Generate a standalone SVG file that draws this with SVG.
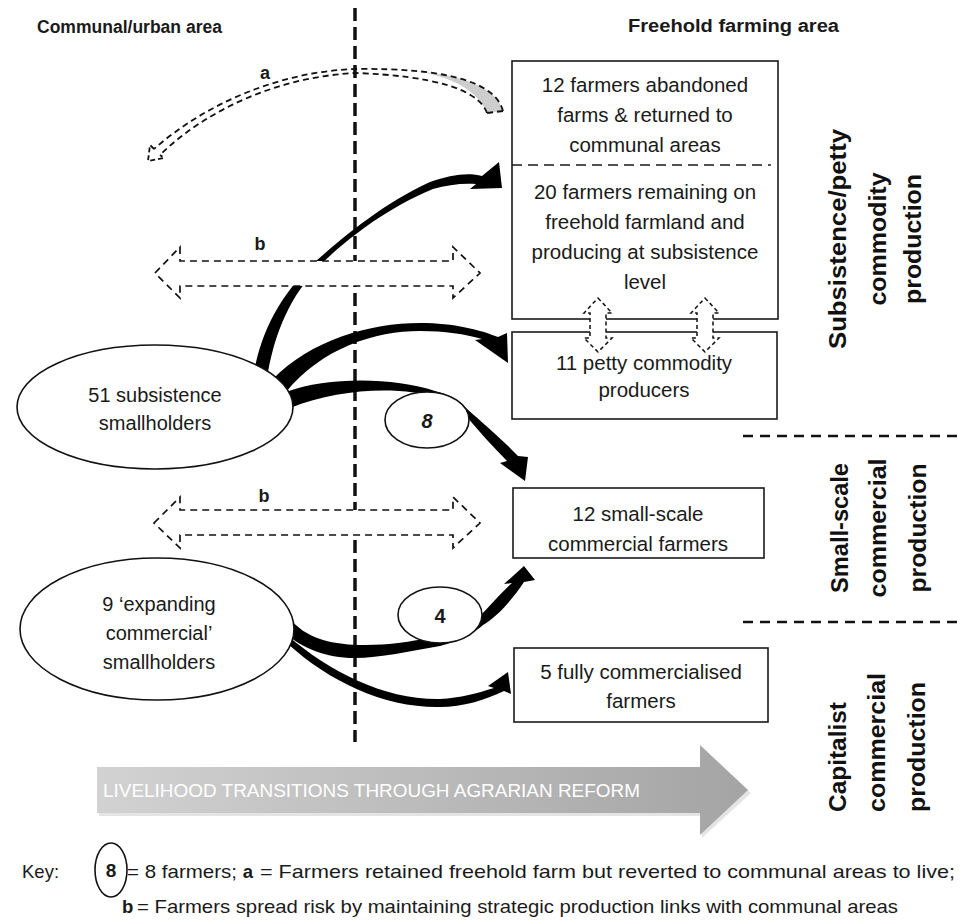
<svg xmlns="http://www.w3.org/2000/svg" width="961" height="924" viewBox="0 0 961 924">
<defs>
<style>
.t{font-family:"Liberation Sans",Arial,sans-serif;fill:#1a1a1a}
.bx{font-size:20.5px;text-anchor:middle}
.el{font-size:20px;text-anchor:middle}
.b{font-weight:bold}
.side{font-family:"Liberation Sans",Arial,sans-serif;font-weight:bold;font-size:23px;fill:#111}
.box{fill:#fff;stroke:#1a1a1a;stroke-width:1.6}
.ell{fill:#fff;stroke:#111;stroke-width:1.6}
.dsh{fill:#fff;stroke:#111;stroke-width:1.7;stroke-dasharray:7 5}
.dsm{fill:#fff;stroke:#111;stroke-width:1.5;stroke-dasharray:4 3}
.arr{fill:#000;stroke:none}
</style>
<linearGradient id="g" x1="0" y1="0" x2="1" y2="0">
<stop offset="0" stop-color="#d2d2d2"/>
<stop offset="1" stop-color="#a4a4a4"/>
</linearGradient>
</defs>
<rect width="961" height="924" fill="#fff"/>

<g id="headers">
<text class="t b" x="37" y="33" font-size="17.5" textLength="185" lengthAdjust="spacingAndGlyphs">Communal/urban area</text>
<text class="t b" x="628" y="32" font-size="17.5" textLength="211" lengthAdjust="spacingAndGlyphs">Freehold farming area</text>
</g>

<g id="divider">
<line x1="355" y1="8" x2="355" y2="742" stroke="#111" stroke-width="3.5" stroke-dasharray="13 6"/>
<line x1="743" y1="436" x2="961" y2="436" stroke="#111" stroke-width="2.5" stroke-dasharray="10 7"/>
<line x1="743" y1="622" x2="961" y2="622" stroke="#111" stroke-width="2.5" stroke-dasharray="10 7"/>
</g>

<g id="connectors">
<!-- a: dashed curved arrow back to communal areas -->
<path d="M503,111 C497,90 470,76 415,71 C450,76 478,90 487,113 Z" fill="#cdcdcd"/>
<path d="M503,111 C495,80 440,68 357,69 C280,71 205,104 154,149" fill="none" stroke="#111" stroke-width="1.8" stroke-dasharray="6 4"/>
<path d="M487,113 C478,88 430,76 357,73 C282,76 208,108 160,155" fill="none" stroke="#111" stroke-width="1.8" stroke-dasharray="6 4"/>
<path d="M503,111 L487,113" fill="none" stroke="#111" stroke-width="1.8" stroke-dasharray="6 4"/>
<path d="M154,149 L150,145 L148,161 L164,158 L160,155" fill="none" stroke="#111" stroke-width="1.8" stroke-dasharray="5 3"/>

<!-- solid curved arrows -->
<path id="c1" class="arr" d="M254,372 C262,330 280,295 315,262 C340,240 380,205 430,182 C450,175 468,172 482,176 L499,162 L502,188 L470,189 L476,184 C462,183 447,185 433,189 C382,210 343,243 319,266 C290,297 276,330 268,372 Z"/>
<path id="c2" class="arr" d="M272,380 C310,340 370,323 420,323 C455,323 480,330 498,337 L507,333 L508,363 L475,340 L482,339 C465,334 445,331 420,331 C375,331 322,348 286,392 Z"/>
<path id="c3" class="arr" d="M286,392 C330,376 395,378 435,391 C450,395 460,400 466,408 C485,425 505,442 518,456 L528,457 L525,481 L500,463 L507,461 C492,446 478,430 466,416 L440,398 C400,386 340,388 290,408 Z"/>
<path id="c4" class="arr" d="M288,616 C305,640 335,645 365,645 C390,645 405,642 418,640 L440,636 L478,618 C490,606 500,594 512,583 L504,584 L524,566 L535,580 L524,582 C512,600 497,617 483,625 C475,632 462,640 440,646 C410,651 380,658 355,658 C325,658 303,648 286,634 Z"/>
<path id="c5" class="arr" d="M288,636 C330,672 385,700 440,699 C460,698 478,693 494,688 L488,686 L508,672 L511,694 L504,691 C485,700 463,707 440,707 C385,708 330,682 288,644 Z"/>

<!-- b: dashed double-headed arrows -->
<path class="dsh" d="M155,273 L180,247 L180,261 L453,261 L453,247 L480,273 L453,298 L453,286 L180,286 L180,298 Z"/>
<path class="dsh" d="M154,523 L180,497 L180,510 L453,510 L453,497 L480,523 L453,548 L453,535 L180,535 L180,548 Z"/>
</g>

<g id="labels">
<text class="t b" x="265" y="79" font-size="18" text-anchor="middle">a</text>
<text class="t b" x="260" y="250" font-size="18" text-anchor="middle">b</text>
<text class="t b" x="264" y="502" font-size="18" text-anchor="middle">b</text>
</g>

<g id="n-subsistence">
<ellipse class="ell" cx="155" cy="407" rx="138" ry="62"/>
<text class="t el" x="155" y="402">51 subsistence</text>
<text class="t el" x="155" y="430">smallholders</text>
</g>

<g id="n-expanding">
<ellipse class="ell" cx="157" cy="629" rx="137" ry="71"/>
<text class="t el" x="159" y="611">9 ‘expanding</text>
<text class="t el" x="159" y="640">commercial’</text>
<text class="t el" x="159" y="669">smallholders</text>
</g>

<g id="n-eight">
<ellipse class="ell" cx="427" cy="420" rx="42" ry="28"/>
<text class="t b" x="427" y="428" font-size="20" font-style="italic" text-anchor="middle">8</text>
</g>

<g id="n-four">
<ellipse class="ell" cx="440" cy="615" rx="42" ry="28"/>
<text class="t b" x="440" y="623" font-size="20" text-anchor="middle">4</text>
</g>

<g id="n-freehold-subsistence">
<rect class="box" x="512" y="61" width="266" height="258"/>
<line x1="512" y1="165" x2="771" y2="165" stroke="#1a1a1a" stroke-width="1.5" stroke-dasharray="10 6"/>
<text class="t bx" x="645" y="92">12 farmers abandoned</text>
<text class="t bx" x="645" y="122">farms &amp; returned to</text>
<text class="t bx" x="645" y="152">communal areas</text>
<text class="t bx" x="645" y="199">20 farmers remaining on</text>
<text class="t bx" x="645" y="229">freehold farmland and</text>
<text class="t bx" x="645" y="259">producing at subsistence</text>
<text class="t bx" x="645" y="289">level</text>
</g>

<g id="n-petty">
<rect class="box" x="512" y="332" width="265" height="87"/>
<text class="t bx" x="644" y="370">11 petty commodity</text>
<text class="t bx" x="644" y="397">producers</text>
</g>

<g id="links-vertical">
<path class="dsm" d="M598,298 L612,313 L606,313 L606,338 L612,338 L598,352 L584,338 L590,338 L590,313 L584,313 Z"/>
<path class="dsm" d="M705,298 L719,313 L713,313 L713,338 L719,338 L705,352 L691,338 L697,338 L697,313 L691,313 Z"/>
</g>

<g id="n-smallscale">
<rect class="box" x="513" y="488" width="251" height="70"/>
<text class="t bx" x="638" y="521">12 small-scale</text>
<text class="t bx" x="638" y="551">commercial farmers</text>
</g>

<g id="n-fully">
<rect class="box" x="514" y="648" width="254" height="74"/>
<text class="t bx" x="641" y="679">5 fully commercialised</text>
<text class="t bx" x="641" y="708">farmers</text>
</g>

<g id="side-labels">
<text class="side" transform="translate(846,239) rotate(-90)" text-anchor="middle" textLength="220" lengthAdjust="spacingAndGlyphs">Subsistence/petty</text>
<text class="side" transform="translate(886,239) rotate(-90)" text-anchor="middle" textLength="133" lengthAdjust="spacingAndGlyphs">commodity</text>
<text class="side" transform="translate(921,239) rotate(-90)" text-anchor="middle" textLength="130" lengthAdjust="spacingAndGlyphs">production</text>
<text class="side" transform="translate(848,528) rotate(-90)" text-anchor="middle" textLength="130" lengthAdjust="spacingAndGlyphs">Small-scale</text>
<text class="side" transform="translate(886,528) rotate(-90)" text-anchor="middle" textLength="139" lengthAdjust="spacingAndGlyphs">commercial</text>
<text class="side" transform="translate(926,528) rotate(-90)" text-anchor="middle" textLength="129" lengthAdjust="spacingAndGlyphs">production</text>
<text class="side" transform="translate(846,812) rotate(-90)" textLength="110" lengthAdjust="spacingAndGlyphs">Capitalist</text>
<text class="side" transform="translate(885,812) rotate(-90)" textLength="139" lengthAdjust="spacingAndGlyphs">commercial</text>
<text class="side" transform="translate(925,812) rotate(-90)" textLength="130" lengthAdjust="spacingAndGlyphs">production</text>
</g>

<g id="transition-arrow">
<path d="M99,770 L702,770 L702,748 L751,793 L702,838 L702,816 L99,816 Z" fill="#e4e4e4"/>
<path d="M97,767 L700,767 L700,745 L748,790 L700,835 L700,813 L97,813 Z" fill="url(#g)"/>
<text x="103" y="797" font-family="'Liberation Sans',Arial,sans-serif" font-size="18" fill="#fff" textLength="537" lengthAdjust="spacingAndGlyphs">LIVELIHOOD TRANSITIONS THROUGH AGRARIAN REFORM</text>
</g>

<g id="key">
<text class="t" x="22" y="878" font-size="18.5">Key:</text>
<ellipse cx="111" cy="870" rx="16" ry="27" fill="#fff" stroke="#111" stroke-width="1.6"/>
<text class="t b" x="111" y="877" font-size="19" text-anchor="middle">8</text>
<text class="t" x="127" y="878" font-size="18.5" textLength="110" lengthAdjust="spacingAndGlyphs">= 8 farmers;</text>
<text class="t b" x="248" y="878" font-size="18.5" text-anchor="middle">a</text>
<text class="t" x="260" y="878" font-size="18.5" textLength="695" lengthAdjust="spacingAndGlyphs">= Farmers retained freehold farm but reverted to communal areas to live;</text>
<text class="t b" x="122" y="913" font-size="18.5">b</text>
<text class="t" x="137" y="913" font-size="18.5" textLength="761" lengthAdjust="spacingAndGlyphs">= Farmers spread risk by maintaining strategic production links with communal areas</text>
</g>
</svg>
